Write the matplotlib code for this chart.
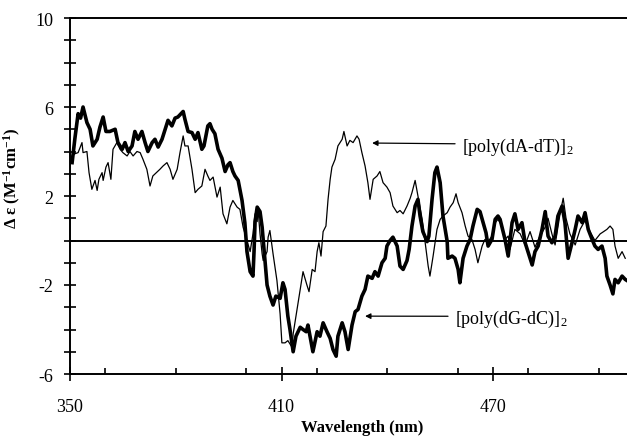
import matplotlib
matplotlib.use("Agg")
import matplotlib.pyplot as plt
from matplotlib.ticker import MultipleLocator

plt.rcParams['font.family'] = ['Liberation Serif', 'DejaVu Serif']
plt.rcParams['mathtext.default'] = 'regular'
plt.rcParams['axes.unicode_minus'] = False

# [poly(dG-dC)]2 (thick)
gc_wl = [350.6, 351.4, 352.3, 353.0, 353.7, 354.8, 355.7, 356.5, 357.7, 358.5, 359.4, 360.2,
         361.3, 362.8, 363.6, 364.8, 365.6, 366.5, 367.6, 368.4, 369.3, 370.4, 371.3, 372.1,
         373.3, 374.1, 375.0, 376.1, 377.0, 377.8, 378.9, 379.8, 380.6, 382.1, 382.6, 383.5,
         384.6, 385.5, 386.3, 387.4, 388.0, 389.1, 389.7, 390.3, 391.1, 392.0, 393.1, 394.0,
         394.8, 395.4, 396.2, 396.8, 397.7, 398.8, 399.6, 400.2, 401.1, 401.9, 402.2, 402.5,
         403.1, 403.9, 404.5, 405.3, 405.9, 406.7, 407.6, 408.4, 409.6, 410.4, 411.0, 411.8,
         412.4, 413.3, 414.1, 415.3, 416.1, 417.0, 417.5, 418.9, 420.1, 420.9, 421.8, 422.9,
         423.8, 424.6, 425.5, 426.0, 427.2, 428.0, 428.9, 430.0, 430.9, 431.7, 432.8, 433.7,
         434.5, 435.7, 436.5, 437.4, 438.5, 439.4, 439.9, 440.8, 441.6, 442.8, 443.6, 444.5,
         445.6, 446.2, 447.0, 447.9, 448.7, 449.3, 450.1, 451.3, 451.8, 452.7, 453.5, 454.1,
         455.0, 455.8, 457.0, 457.2, 458.4, 459.2, 460.1, 460.6, 461.5, 462.6, 463.5, 464.3,
         465.5, 466.3, 467.2, 468.0, 468.6, 469.7, 470.6, 471.4, 472.0, 473.4, 474.3, 475.4,
         476.2, 477.1, 478.2, 479.1, 479.9, 481.1, 481.9, 482.8, 483.9, 484.8, 485.6, 486.7,
         487.6, 488.4, 489.6, 490.4, 491.3, 492.4, 493.3, 494.1, 495.3, 496.1, 497.0, 498.1,
         498.9, 499.8, 500.9, 501.8, 502.3, 503.2, 504.0, 504.6, 505.5, 506.6, 507.5, 508.0]
gc_de = [3.5, 4.6, 5.7, 5.5, 6.0, 5.3, 5.0, 4.25, 4.55, 5.1, 5.55, 4.9,
         4.9, 5.0, 4.4, 4.1, 4.4, 4.0, 4.25, 4.9, 4.55, 4.9, 4.4, 4.0,
         4.4, 4.55, 4.2, 4.55, 5.0, 5.4, 5.15, 5.5, 5.55, 5.8, 5.45, 4.9,
         4.85, 4.55, 4.85, 4.1, 4.25, 5.15, 5.25, 5.0, 4.8, 4.1, 3.7, 3.1,
         3.4, 3.5, 3.1, 2.9, 2.7, 1.8, 0.8, -0.5, -1.4, -1.6, -0.5, 0.85,
         1.5, 1.3, 0.6, -0.9, -2.0, -2.5, -2.9, -2.5, -2.6, -1.9, -2.2, -3.4,
         -4.0, -5.0, -4.3, -3.9, -4.0, -4.1, -3.8, -5.0, -4.1, -4.3, -3.7, -4.1,
         -4.4, -4.9, -5.2, -4.3, -3.7, -4.1, -4.9, -3.8, -3.2, -3.1, -2.5, -2.2,
         -1.6, -1.7, -1.4, -1.6, -1.0, -0.8, -0.25, 0.0, 0.15, -0.25, -1.15, -1.3,
         -0.9, -0.4, 0.65, 1.55, 1.85, 1.1, 0.4, -0.05, 0.2, 1.85, 3.05, 3.3,
         2.6, 1.1, -0.05, -0.8, -0.7, -0.8, -1.3, -1.9, -0.8, -0.25, 0.05, 0.65,
         1.4, 1.3, 0.8, 0.35, -0.25, 0.05, 0.95, 1.1, 0.95, 0.05, -0.7, 0.8,
         1.2, 0.5, 0.8, -0.1, -0.5, -1.1, -0.5, -0.25, 0.5, 1.3, 0.2, -0.1,
         0.2, 1.1, 1.55, 0.8, -0.8, -0.1, 0.5, 1.1, 0.8, 1.25, 0.5, 0.05,
         -0.25, -0.4, -0.25, -0.8, -1.6, -2.0, -2.4, -1.75, -1.9, -1.6, -1.75, -1.8]

# [poly(dA-dT)]2 (thin)
at_wl = [350.6, 351.4, 352.3, 353.4, 353.7, 354.8, 355.4, 356.2, 357.1, 357.7, 358.2, 359.1,
         359.4, 360.2, 360.8, 361.6, 362.2, 363.3, 364.2, 365.0, 366.2, 367.0, 367.9, 369.0,
         369.9, 370.7, 371.8, 372.7, 373.5, 374.5, 375.5, 376.4, 377.5, 378.4, 379.2, 380.4,
         381.2, 382.1, 382.6, 383.5, 384.6, 385.5, 386.3, 387.4, 388.3, 389.1, 389.7, 390.6,
         391.7, 392.6, 393.4, 394.5, 395.4, 396.2, 397.4, 398.2, 399.1, 400.2, 401.1, 401.9,
         402.5, 403.1, 403.3, 403.9, 404.5, 404.8, 405.9, 406.2, 406.7, 407.6, 408.7, 409.6,
         410.1, 411.0, 411.8, 413.0, 413.3, 414.4, 415.3, 416.1, 417.2, 417.8, 418.7, 419.5,
         420.1, 420.6, 421.2, 421.8, 422.6, 423.2, 423.8, 424.3, 425.2, 426.0, 427.2, 427.7,
         428.6, 429.4, 430.3, 431.4, 432.0, 432.8, 433.7, 434.5, 435.1, 436.0, 437.1, 437.9,
         438.8, 439.9, 440.8, 441.6, 442.8, 443.6, 444.5, 445.6, 446.5, 447.0, 447.9, 448.7,
         449.9, 450.7, 451.6, 452.1, 453.0, 454.1, 455.0, 455.8, 457.0, 457.8, 458.7, 459.5,
         460.1, 461.2, 462.1, 462.9, 464.0, 464.9, 465.7, 466.9, 467.7, 468.6, 469.7, 470.6,
         471.4, 472.6, 473.4, 474.3, 474.8, 476.2, 477.7, 479.1, 480.5, 481.9, 483.3, 484.8,
         485.6, 486.7, 487.6, 489.0, 489.9, 490.7, 491.8, 493.3, 494.7, 496.1, 497.5, 498.9,
         500.4, 500.9, 502.3, 503.2, 504.0, 504.6, 505.5, 506.6, 507.5]
at_de = [3.8, 3.9, 3.95, 4.4, 3.95, 4.0, 3.05, 2.3, 2.7, 2.25, 2.75, 3.05,
         2.7, 3.3, 3.5, 2.75, 4.1, 4.4, 4.1, 3.95, 3.8, 4.0, 3.8, 4.0,
         3.95, 3.65, 3.2, 2.45, 2.9, 3.05, 3.2, 3.35, 3.5, 3.2, 2.75, 3.2,
         3.95, 4.7, 4.25, 4.25, 3.2, 2.15, 2.3, 2.45, 3.2, 2.9, 2.7, 2.85,
         1.95, 2.4, 1.2, 0.75, 1.5, 1.8, 1.5, 1.4, 0.6, 0.0, -0.5, 0.3,
         1.2, 0.85, 1.5, 0.3, -0.6, -0.9, -0.5, 0.15, 0.45, -0.6, -1.8, -3.3,
         -4.6, -4.6, -4.5, -4.8, -4.2, -3.1, -2.2, -1.4, -2.0, -2.3, -1.3, -1.4,
         -0.5, -0.1, -0.7, 0.4, 0.65, 1.85, 2.75, 3.3, 3.65, 4.25, 4.55, 4.9,
         4.25, 4.5, 4.4, 4.7, 4.55, 3.95, 3.35, 2.6, 1.85, 2.75, 2.9, 3.1,
         2.6, 2.4, 2.15, 1.55, 1.25, 1.35, 1.2, 1.55, 1.9, 2.15, 2.7, 2.0,
         0.95, -0.05, -1.15, -1.6, -0.7, 0.5, 0.95, 1.1, 1.25, 1.5, 1.7, 2.1,
         1.7, 1.25, 0.65, 0.2, 0.05, -0.4, -1.0, -0.25, 0.05, -0.05, 0.2, 0.8,
         0.95, 0.65, 0.05, 0.2, -0.4, 0.5, 0.3, -0.2, 0.4, -0.3, 0.2, 0.6,
         1.0, 0.3, -0.2, 1.2, 1.9, 1.0, 0.3, -0.2, 0.5, 0.9, 0.4, 0.0,
         0.3, 0.35, 0.5, 0.65, 0.5, -0.25, -0.8, -0.5, -0.8]

x_major = [350, 410, 470]
y_major = [-6, -2, 2, 6, 10]

fig = plt.figure(figsize=(6.27, 4.39), dpi=100)
ax = fig.add_axes([70/627, 1 - 375/439, 1 - 70/627, (375 - 19)/439])

ax.plot(at_wl, at_de, color='black', lw=0.9, zorder=3)
ax.plot(gc_wl, gc_de, color='black', lw=2.6, zorder=4)
ax.axhline(0, color='black', lw=1.4, zorder=2)

ax.set_xlim(350, 508)
ax.set_ylim(-6, 10)
ax.set_xticks(x_major)
ax.set_yticks(y_major)
ax.xaxis.set_minor_locator(MultipleLocator(20))
ax.yaxis.set_minor_locator(MultipleLocator(1))

ax.tick_params(axis='x', which='major', direction='inout', length=10, width=1.2,
               labelsize=13, pad=12)
ax.tick_params(axis='x', which='minor', direction='in', length=4, width=1.2)
ax.tick_params(axis='y', which='both', direction='inout', length=8, width=1.2,
               labelsize=13, pad=8)

for s in ['left', 'bottom', 'top']:
    ax.spines[s].set_linewidth(1.4)
ax.spines['right'].set_visible(False)

ax.set_xlabel('Wavelength (nm)', fontsize=12, fontweight='bold')
ax.xaxis.set_label_coords(0.524, -0.127)
ax.set_ylabel('Δ ε (M$^{-1}$cm$^{-1}$)', fontsize=12, fontweight='bold')
ax.yaxis.set_label_coords(-0.085, 0.553)

ax.annotate('[poly(dA-dT)]$_2$', xy=(435.7, 4.38), xytext=(461.2, 4.25),
            fontsize=13, va='center', ha='left',
            arrowprops=dict(arrowstyle='-|>', color='black', lw=0.9,
                            mutation_scale=8, shrinkA=3, shrinkB=0,
                            relpos=(0, 0.6)))
ax.annotate('[poly(dG-dC)]$_2$', xy=(433.7, -3.4), xytext=(459.2, -3.5),
            fontsize=13, va='center', ha='left',
            arrowprops=dict(arrowstyle='-|>', color='black', lw=0.9,
                            mutation_scale=8, shrinkA=3, shrinkB=0,
                            relpos=(0, 0.6)))

fig.savefig('out.png', dpi=100)
